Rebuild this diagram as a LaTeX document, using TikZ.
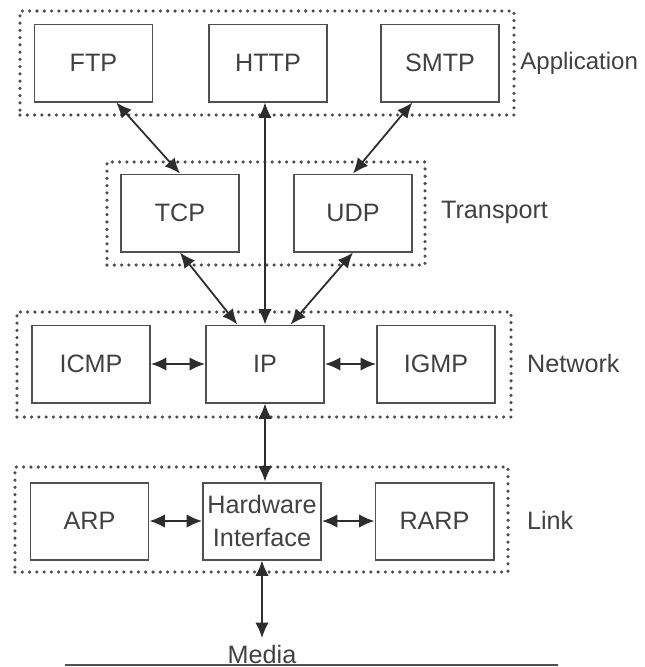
\documentclass[tikz,border=0pt]{standalone}
\usepackage{fontspec}
\setmainfont{Liberation Sans}
\usetikzlibrary{arrows.meta}
\definecolor{boxcol}{RGB}{80,80,80}
\definecolor{arrcol}{RGB}{45,45,45}
\definecolor{txtcol}{RGB}{65,65,65}
\begin{document}
\begin{tikzpicture}[x=0.03cm, y=-0.03cm,
    every node/.style={font=\fontsize{21.5}{28}\selectfont, text=txtcol},
    proto/.style={draw=boxcol, line width=1.7pt, minimum width=3.54cm, minimum height=2.31cm, inner sep=0pt, align=center},
    layer/.style={draw=black!70, line width=3pt, line cap=round, dash pattern=on 0pt off 6.2pt, inner sep=0pt},
    arr/.style={{Latex[length=4.6mm,width=4mm]}-{Latex[length=4.6mm,width=4mm]}, line width=1.5pt, draw=arrcol}]
    \useasboundingbox[fill=white] (0,0) rectangle (645,667);

    % layers
    \node[layer, minimum width=14.82cm, minimum height=3.12cm] (app)   at (267,63)    {};
    \node[layer, minimum width=9.54cm,  minimum height=3.09cm] (trans) at (266,213.5) {};
    \node[layer, minimum width=14.82cm, minimum height=3.15cm] (net)   at (264,364.5) {};
    \node[layer, minimum width=14.79cm, minimum height=3.15cm] (link)  at (261.5,519.5) {};

    \node[anchor=west, inner sep=1pt, font=\fontsize{20.5}{28}\selectfont] (applbl) at (519,63) {Application};
    \node[anchor=west] (translbl) at (437,212) {Transport};
    \node[anchor=west] (netlbl)   at (523,363) {Network};
    \node[anchor=west] (linklbl)  at (523,520) {Link};

    % protocols
    \node[proto] (ftp)  at (93.5,63) {FTP};
    \node[proto] (http) at (268,63)  {HTTP};
    \node[proto] (smtp) at (440,63)  {SMTP};
    \node[proto] (tcp)  at (180,213) {TCP};
    \node[proto] (udp)  at (353,213) {UDP};
    \node[proto] (icmp) at (91,364)  {ICMP};
    \node[proto] (ip)   at (265,364) {IP};
    \node[proto] (igmp) at (436,364) {IGMP};
    \node[proto] (arp)  at (89.5,521) {ARP};
    \node[proto] (hw)   at (262,521) {Hardware\\Interface};
    \node[proto] (rarp) at (434.5,521) {RARP};

    \coordinate (mediaend) at (262,638);
    \node (media) at (262,654) {Media};
    \draw[boxcol, line width=1.3pt] (65,665) -- (558,665);

    % connections
    \draw[arr] (ftp.-60)   -- (tcp.north);
    \draw[arr] (smtp.-125) -- (udp.north);
    \draw[arr] (http.south -| ip.north) -- (ip.north);
    \draw[arr] (tcp.south) -- (ip.125);
    \draw[arr] (udp.south) -- (ip.57);
    \draw[arr] (icmp.east) -- (ip.west);
    \draw[arr] (ip.east)   -- (igmp.west);
    \draw[arr] (ip.south)  -- (hw.north -| ip.south);
    \draw[arr] (arp.east)  -- (hw.west);
    \draw[arr] (hw.east)   -- (rarp.west);
    \draw[arr] (hw.south)  -- (mediaend);
\end{tikzpicture}
\end{document}
